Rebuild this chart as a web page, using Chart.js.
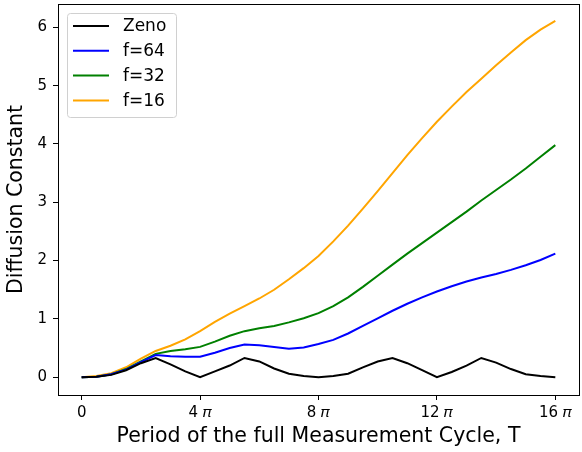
<!DOCTYPE html>
<html>
<head>
<meta charset="utf-8">
<script src="https://cdn.jsdelivr.net/npm/chart.js@4"></script>
<style>
  html, body { margin: 0; padding: 0; background: #fff; }
  #wrap { width: 582px; height: 452px; }
</style>
</head>
<body>
<div id="wrap"><canvas id="diffChart" width="582" height="452"></canvas></div>
<script>
// x positions in units of pi
const periods = [0, 0.5, 1, 1.5, 2, 2.5, 3, 3.5, 4, 4.5, 5, 5.5, 6, 6.5, 7, 7.5, 8,
                 8.5, 9, 9.5, 10, 10.5, 11, 11.5, 12, 12.5, 13, 13.5, 14, 14.5, 15, 15.5, 16];

const zeno = [0.0, 0.01, 0.04, 0.12, 0.24, 0.33, 0.22, 0.10, 0.0, 0.10, 0.20, 0.33, 0.27, 0.15, 0.06, 0.02, 0.0,
              0.02, 0.06, 0.17, 0.27, 0.33, 0.24, 0.12, 0.0, 0.09, 0.20, 0.33, 0.25, 0.14, 0.05, 0.02, 0.0];
const f64 = [0.0, 0.01, 0.05, 0.13, 0.26, 0.38, 0.36, 0.35, 0.35, 0.42, 0.50, 0.56, 0.55, 0.52, 0.49, 0.51, 0.57,
             0.64, 0.75, 0.88, 1.01, 1.14, 1.26, 1.37, 1.47, 1.56, 1.64, 1.71, 1.77, 1.84, 1.92, 2.01, 2.12];
const f32 = [0.0, 0.01, 0.05, 0.14, 0.27, 0.40, 0.45, 0.48, 0.52, 0.61, 0.71, 0.79, 0.84, 0.88, 0.94, 1.01, 1.10,
             1.22, 1.37, 1.55, 1.74, 1.93, 2.12, 2.30, 2.48, 2.66, 2.84, 3.03, 3.21, 3.39, 3.58, 3.78, 3.98];
const f16 = [0.0, 0.02, 0.07, 0.17, 0.32, 0.45, 0.54, 0.65, 0.79, 0.95, 1.09, 1.22, 1.35, 1.50, 1.68, 1.87, 2.08,
             2.33, 2.60, 2.89, 3.19, 3.50, 3.81, 4.10, 4.38, 4.64, 4.89, 5.12, 5.35, 5.57, 5.78, 5.96, 6.11];

const xTicks = [0, 4, 8, 12, 16];
const yTicks = [0, 1, 2, 3, 4, 5, 6];

const FONT = 'DejaVu Sans';

function pts(ys) {
  return periods.map((x, i) => ({ x: x, y: ys[i] }));
}

// frame on all four sides, like matplotlib spines
const framePlugin = {
  id: 'frame',
  afterDatasetsDraw(chart) {
    const a = chart.chartArea;
    const ctx = chart.ctx;
    ctx.save();
    ctx.strokeStyle = '#000';
    ctx.lineWidth = 1;
    ctx.strokeRect(Math.round(a.left) + 0.5, Math.round(a.top) + 0.5,
                   Math.round(a.right - a.left), Math.round(a.bottom - a.top));
    ctx.restore();
  }
};

// legend drawn inside the plot, upper left
const innerLegend = {
  id: 'innerLegend',
  afterDraw(chart) {
    const a = chart.chartArea;
    const ctx = chart.ctx;
    const x0 = a.left + 9, y0 = a.top + 9;
    const w = 109, h = 104;
    ctx.save();
    ctx.fillStyle = 'rgba(255,255,255,0.8)';
    ctx.strokeStyle = '#d0d0d0';
    ctx.lineWidth = 1;
    ctx.beginPath();
    ctx.roundRect(x0 + 0.5, y0 + 0.5, w, h, 3);
    ctx.fill();
    ctx.stroke();
    ctx.font = '17px "' + FONT + '"';
    ctx.textBaseline = 'middle';
    chart.data.datasets.forEach((ds, i) => {
      const yy = y0 + 13 + i * 24.8;
      ctx.strokeStyle = ds.borderColor;
      ctx.lineWidth = 2;
      ctx.beginPath();
      ctx.moveTo(x0 + 6, yy);
      ctx.lineTo(x0 + 42, yy);
      ctx.stroke();
      ctx.fillStyle = '#000';
      ctx.fillText(ds.label, x0 + 56, yy + 1);
    });
    ctx.restore();
  }
};

const ctx = document.getElementById('diffChart').getContext('2d');
const diffChart = new Chart(ctx, {
  type: 'line',
  data: {
    datasets: [
      { label: 'Zeno', data: pts(zeno), borderColor: '#000000' },
      { label: 'f=64', data: pts(f64), borderColor: '#0000ff' },
      { label: 'f=32', data: pts(f32), borderColor: '#008000' },
      { label: 'f=16', data: pts(f16), borderColor: '#ffa500' }
    ]
  },
  options: {
    responsive: false,
    animation: false,
    layout: { padding: { top: 4, right: 3, left: 0, bottom: 0 } },
    elements: {
      line: { borderWidth: 2, tension: 0, fill: false },
      point: { radius: 0 }
    },
    plugins: {
      legend: { display: false },
      tooltip: { enabled: false }
    },
    scales: {
      x: {
        type: 'linear',
        min: -0.8,
        max: 16.8,
        afterBuildTicks: axis => { axis.ticks = xTicks.map(v => ({ value: v })); },
        afterFit: axis => { axis.height = 57; },
        grid: { drawOnChartArea: false, drawTicks: true, tickLength: 5, tickColor: '#000' },
        border: { display: false },
        ticks: {
          color: '#000',
          padding: 4,
          maxRotation: 0,
          font: { family: FONT, size: 15 },
          callback: v => v === 0 ? '0' : v + ' 𝜋'
        },
        title: {
          display: true,
          text: 'Period of the full Measurement Cycle, T',
          color: '#000',
          font: { family: FONT, size: 20.5 },
          padding: { top: 0, bottom: 3 }
        }
      },
      y: {
        type: 'linear',
        min: -0.305,
        max: 6.4,
        afterBuildTicks: axis => { axis.ticks = yTicks.map(v => ({ value: v })); },
        afterFit: axis => {
          axis.width = 58;
          axis.paddingTop = 0;
          axis.paddingBottom = 0;
        },
        grid: { drawOnChartArea: false, drawTicks: true, tickLength: 5, tickColor: '#000' },
        border: { display: false },
        ticks: {
          color: '#000',
          padding: 6,
          font: { family: FONT, size: 15 }
        },
        title: {
          display: true,
          text: 'Diffusion Constant',
          color: '#000',
          font: { family: FONT, size: 20.5 },
          padding: { top: 4, bottom: 0 }
        }
      }
    }
  },
  plugins: [framePlugin, innerLegend]
});
</script>
</body>
</html>
